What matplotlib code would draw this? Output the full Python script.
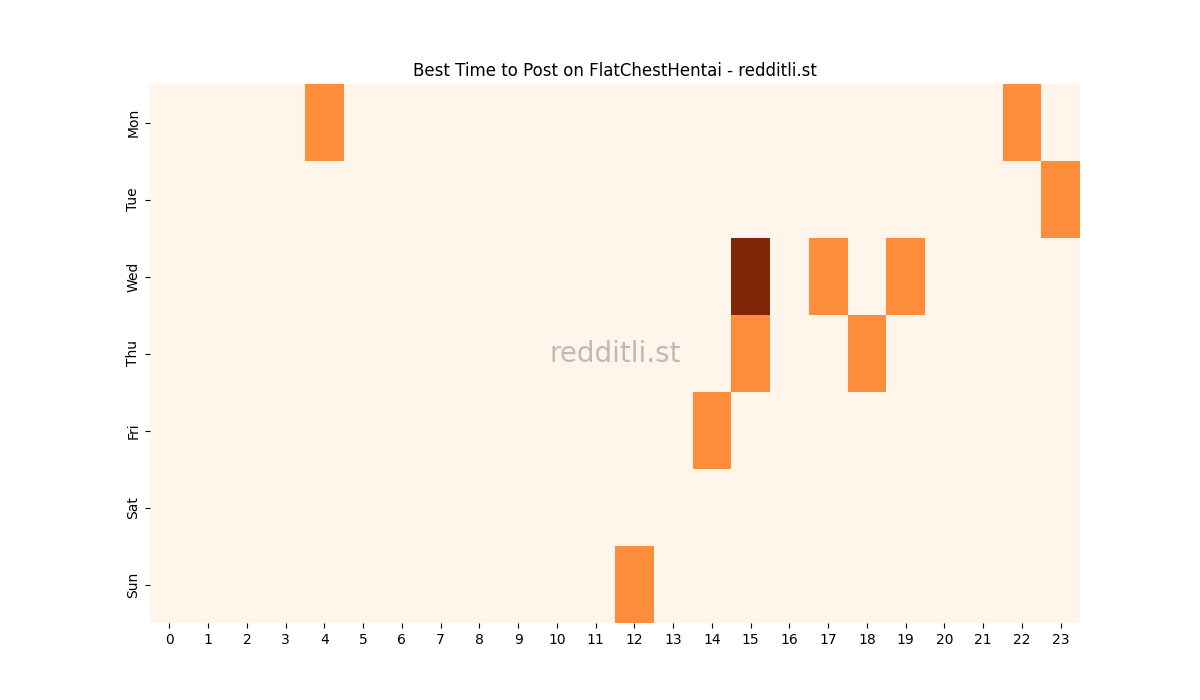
import matplotlib
matplotlib.use("Agg")
import matplotlib.pyplot as plt
import seaborn as sns
import numpy as np

days = ["Mon", "Tue", "Wed", "Thu", "Fri", "Sat", "Sun"]
hours = list(range(24))

# (day, hour, count) for non-zero cells
mon = {4: 1, 22: 1}
tue = {23: 1}
wed = {15: 2, 17: 1, 19: 1}
thu = {15: 1, 18: 1}
fri = {14: 1}
sat = {}
sun = {12: 1}
day_counts = [mon, tue, wed, thu, fri, sat, sun]

grid = np.zeros((len(days), len(hours)))
for i, d in enumerate(day_counts):
    for h, v in d.items():
        grid[i, h] = v

fig, ax = plt.subplots(figsize=(12, 7), dpi=100)
sns.heatmap(grid, cmap="Oranges", cbar=False, ax=ax,
            xticklabels=hours, yticklabels=days)
ax.set_title("Best Time to Post on FlatChestHentai - redditli.st")
ax.text(0.5, 0.5, "redditli.st", transform=ax.transAxes, ha="center", va="center",
        fontsize=20, color="gray", alpha=0.5)
fig.savefig("out.png", dpi=100)
